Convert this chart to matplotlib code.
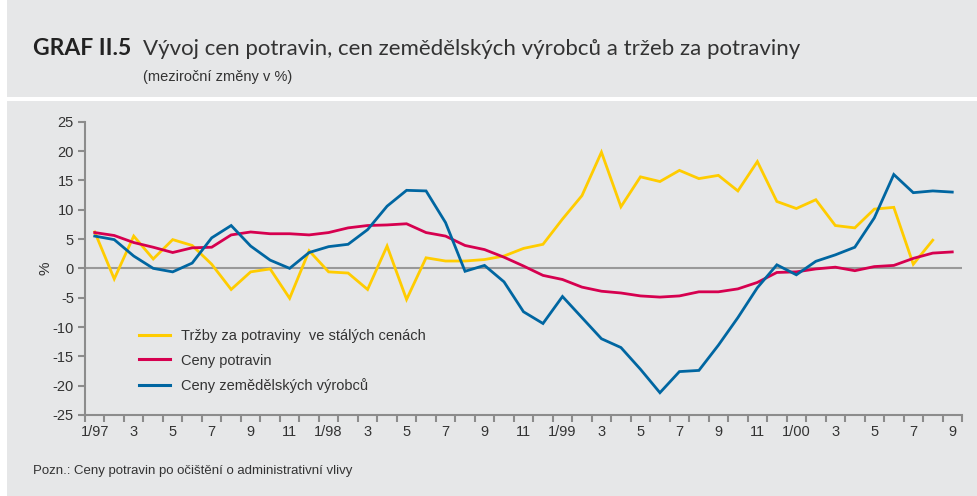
import numpy as np
import matplotlib
matplotlib.use("Agg")
import matplotlib.pyplot as plt
from matplotlib.patches import Rectangle

plt.rcParams['font.family'] = ['Liberation Sans', 'DejaVu Sans']

# ---- data ----
tick_labels = ["1/97", "3", "5", "7", "9", "11", "1/98", "3", "5", "7", "9", "11",
               "1/99", "3", "5", "7", "9", "11", "1/00", "3", "5", "7", "9"]
n_months = 45

trzby = [6.2, -1.8, 5.5, 1.6, 4.9, 3.9, 0.7, -3.6, -0.6, -0.1, -5.1, 3.0,
         -0.6, -0.8, -3.6, 3.8, -5.3, 1.8, 1.25, 1.25, 1.5, 2.1, 3.4, 4.1,
         8.4, 12.4, 19.8, 10.5, 15.6, 14.8, 16.7, 15.3, 15.85, 13.2, 18.2, 11.4,
         10.2, 11.7, 7.3, 6.9, 10.1, 10.4, 0.7, 4.8, np.nan]
ceny_potravin = [6.1, 5.6, 4.4, 3.6, 2.7, 3.5, 3.6, 5.7, 6.2, 5.9, 5.9, 5.7,
                 6.1, 6.9, 7.3, 7.4, 7.6, 6.1, 5.5, 3.9, 3.2, 1.9, 0.4, -1.2,
                 -1.9, -3.2, -3.9, -4.2, -4.7, -4.9, -4.7, -4.0, -4.0, -3.5, -2.4, -0.7,
                 -0.6, -0.1, 0.2, -0.4, 0.3, 0.5, 1.7, 2.6, 2.8]
ceny_zem = [5.5, 4.9, 2.1, 0.0, -0.6, 0.9, 5.2, 7.3, 3.8, 1.4, 0.0, 2.7,
            3.7, 4.1, 6.6, 10.6, 13.3, 13.2, 7.8, -0.5, 0.5, -2.3, -7.4, -9.4,
            -4.8, -8.4, -12.0, -13.5, -17.2, -21.2, -17.6, -17.4, -13.1, -8.4, -3.3, 0.6,
            -1.1, 1.2, 2.3, 3.6, 8.6, 16.0, 12.9, 13.2, 13.0]

series_labels = ["Tržby za potraviny  ve stálých cenách", "Ceny potravin",
                 "Ceny zemědělských výrobců"]
colors = ["#FFCC00", "#D6004F", "#0066A1"]

bg = "#E6E7E8"
axis_gray = "#8C8C8C"
text_col = "#333333"

W, H = 977, 496
fig = plt.figure(figsize=(W / 100, H / 100), dpi=100, facecolor=bg)

# white separators
fig.patches.append(Rectangle((0, 0), 7 / W, 1, transform=fig.transFigure,
                             facecolor="white", edgecolor="none", zorder=0))
fig.patches.append(Rectangle((0, 1 - 101 / H), 1, 4 / H, transform=fig.transFigure,
                             facecolor="white", edgecolor="none", zorder=0))

ax = fig.add_axes([85 / W, 1 - 415 / H, (962 - 85) / W, (415 - 121.7) / H])
ax.set_facecolor(bg)

x = np.arange(n_months)
ax.axhline(0, color="#999999", lw=1.5, zorder=1)
for data, c, lab in zip([trzby, ceny_potravin, ceny_zem], colors, series_labels):
    ax.plot(x, data, color=c, lw=2.0, label=lab, zorder=3, solid_joinstyle="miter")

ax.set_xlim(-0.5, n_months - 0.5)
ax.set_ylim(-25, 25)
ax.set_yticks(np.arange(-25, 26, 5))
ax.set_yticklabels([str(v) for v in range(-25, 26, 5)])

ax.set_xticks(np.arange(-0.5, n_months, 1))
ax.set_xticklabels([])
ax.set_xticks(np.arange(0, n_months, 2), minor=True)
ax.set_xticklabels(tick_labels, minor=True)
ax.tick_params(axis="x", which="major", length=5, width=1.5, color=axis_gray, direction="out")
ax.tick_params(axis="x", which="minor", length=0, pad=7, labelsize=10.5, labelcolor=text_col)
ax.tick_params(axis="y", length=5, width=1.5, color=axis_gray, labelsize=10.5,
               labelcolor=text_col, pad=3)

for s in ["top", "right"]:
    ax.spines[s].set_visible(False)
for s in ["left", "bottom"]:
    ax.spines[s].set_color(axis_gray)
    ax.spines[s].set_linewidth(1.5)

ax.set_ylabel("%", fontsize=11, color=text_col, labelpad=0)

leg = ax.legend(loc="upper left", bbox_to_anchor=(54 / 877, 1 - (329 - 121.7) / 293.3),
                frameon=False, fontsize=10.5, handlelength=2.15, handletextpad=0.7,
                labelspacing=0.72, borderaxespad=0, borderpad=0)
for t in leg.get_texts():
    t.set_color(text_col)
for h in leg.get_lines():
    h.set_linewidth(2.2)

fig.text(33 / W, 1 - 55 / H, "GRAF II.5", fontsize=16.5, fontweight="bold", color="#222222",
         ha="left", va="baseline", family=["Lato", "DejaVu Sans"])
fig.text(143 / W, 1 - 55 / H, "Vývoj cen potravin, cen zemědělských výrobců a tržeb za potraviny",
         fontsize=16, color=text_col, ha="left", va="baseline", family=["Lato", "DejaVu Sans"])
fig.text(143 / W, 1 - 81 / H, "(meziroční změny v %)", fontsize=10.5, color=text_col,
         ha="left", va="baseline")
fig.text(33 / W, 1 - 474 / H, "Pozn.: Ceny potravin po očištění o administrativní vlivy",
         fontsize=9.5, color=text_col, ha="left", va="baseline")

fig.savefig("out.png", dpi=100, facecolor=bg)
